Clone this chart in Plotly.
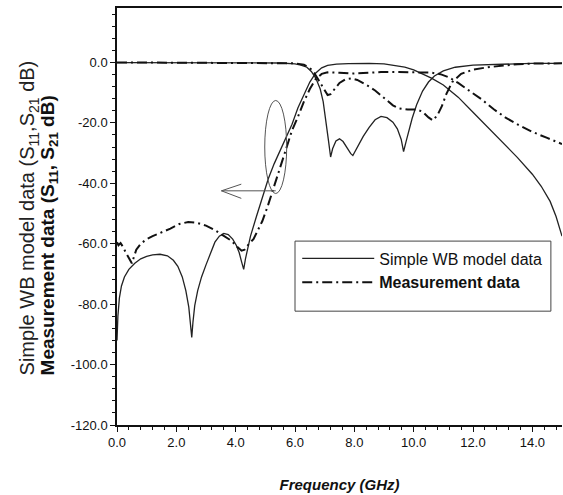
import plotly.graph_objects as go

# ---------------- data ----------------
f_model_s21 = [0.0, 0.03, 0.08, 0.15, 0.25, 0.4, 0.6, 0.8, 1.0, 1.2, 1.45, 1.7, 1.9, 2.05, 2.2,
               2.32, 2.42, 2.48, 2.52, 2.56, 2.62, 2.72, 2.85, 3.0, 3.15, 3.3, 3.45, 3.6, 3.75,
               3.9, 4.02, 4.12, 4.2, 4.27, 4.33, 4.4, 4.5, 4.7, 4.9, 5.1, 5.3, 5.5, 5.7, 5.9,
               6.1, 6.3, 6.5, 6.7, 6.9, 7.1, 7.4, 7.8, 8.5, 9.0, 9.4, 9.7, 10.0, 10.3, 10.6,
               11.0, 11.5, 12.0, 12.5, 13.0, 13.5, 14.0, 14.3, 14.6, 14.8, 15.0]
db_model_s21 = [-92, -84, -78, -74, -71, -68.5, -66.5, -65, -64.2, -63.7, -63.5, -64, -65.5, -67.5, -71,
                -75.5, -81, -86, -91, -86, -80.5, -75.5, -71, -67, -63, -59.5, -57.5, -56.6, -57,
                -58.5, -60.5, -63, -66, -68.5, -65, -61.5, -57.5, -51, -44.5, -38.5, -33.5, -29, -25, -20.5,
                -15, -10.5, -6.5, -3.5, -1.8, -1.0, -0.6, -0.4, -0.3, -0.5, -1.0, -1.6, -2.5, -3.8, -5.2,
                -7.5, -11.5, -16.5, -21.5, -26.5, -31.5, -37, -41, -46, -51, -57.5]

f_model_s11 = [0.0, 5.5, 6.0, 6.2, 6.4, 6.55, 6.7, 6.85, 6.95, 7.05, 7.13, 7.2, 7.27, 7.38, 7.5,
               7.62, 7.75, 7.88, 7.95, 8.02, 8.15, 8.3, 8.5, 8.7, 8.9, 9.1, 9.3, 9.45, 9.58, 9.66,
               9.75, 9.85, 9.95, 10.1, 10.3, 10.5, 10.7, 11.0, 11.4, 12.0, 13.0, 14.0, 15.0]
db_model_s11 = [-0.1, -0.2, -0.5, -0.9, -1.6, -3, -5.2, -8.8, -13, -19.5, -26, -31.3, -28.5, -26, -25.3,
                -26.2, -28.2, -30.2, -30.8, -29.5, -27, -24.5, -21.5, -19, -17.9, -18.3, -19.8, -22, -25.5, -29.5,
                -26, -22, -18.5, -14, -9.5, -6.5, -4.5, -2.8, -1.6, -0.9, -0.5, -0.3, -0.3]

f_meas_s21 = [0.0, 0.05, 0.12, 0.2, 0.3, 0.4, 0.5, 0.55, 0.65, 0.8, 1.0, 1.2, 1.5, 1.8, 2.1, 2.4,
              2.7, 3.0, 3.3, 3.6, 3.85, 4.05, 4.2, 4.3, 4.45, 4.6, 4.75, 4.9, 5.1, 5.3, 5.5, 5.7,
              5.9, 6.1, 6.3, 6.5, 6.7, 6.9, 7.1, 7.5, 7.9, 8.3, 8.9, 9.5, 10.1, 10.6, 10.9, 11.2,
              11.5, 11.9, 12.3, 12.7, 13.1, 13.5, 14.0, 14.5, 15.0]
db_meas_s21 = [-59.5, -60.5, -59.8, -61, -63, -65, -66.5, -65, -62, -60, -58.5, -57.5, -56.3, -55, -53.5, -52.8,
               -53.1, -54, -55.5, -57.3, -59, -61, -62.3, -62, -60, -58.5, -55.5, -52.5, -47, -41, -34.5, -28.3,
               -22.5, -18, -13, -8.8, -5.5, -3.8, -3.3, -3.4, -3.7, -3.5, -3.2, -3.2, -3.2, -3.4, -3.9, -5,
               -6.8, -9.5, -12.3, -15.5, -18.3, -20.5, -23, -25, -27]

f_meas_s11 = [0.0, 6.0, 6.3, 6.5, 6.65, 6.8, 6.95, 7.1, 7.2, 7.35, 7.5, 7.7, 7.9, 8.1, 8.3, 8.5,
              8.7, 8.9, 9.1, 9.3, 9.5, 9.8, 10.1, 10.3, 10.5, 10.65, 10.8, 10.95, 11.1, 11.3, 11.6,
              12.0, 12.5, 13.0, 13.5, 14.0, 15.0]
db_meas_s11 = [0.0, -0.3, -0.8, -1.8, -3.5, -5.8, -8.5, -10.8, -10.5, -8.5, -6.8, -5.6, -5.3, -5.8, -6.8, -8,
               -9.3, -11, -12.8, -14.2, -15.2, -15.6, -15.6, -16.3, -18.2, -19.2, -17.5, -14.5, -10.5, -6.5, -3.8,
               -2.4, -1.6, -1.0, -0.6, -0.4, -0.3]

y_tick_vals = [0, -20, -40, -60, -80, -100, -120]
y_tick_text = ["0.0", "-20.0", "-40.0", "-60.0", "-80.0", "-100.0", "-120.0"]
x_tick_vals = [0, 2, 4, 6, 8, 10, 12, 14]
x_tick_text = ["0.0", "2.0", "4.0", "6.0", "8.0", "10.0", "12.0", "14.0"]

FONT = "Arial, Liberation Sans, sans-serif"
DASHDOT = "10px,4px,2px,4px"

fig = go.Figure()
fig.add_trace(go.Scatter(x=f_model_s21, y=db_model_s21, mode="lines",
                         line=dict(color="#222222", width=1.3), name="Simple WB model data",
                         legendgroup="m"))
fig.add_trace(go.Scatter(x=f_model_s11, y=db_model_s11, mode="lines",
                         line=dict(color="#222222", width=1.3), showlegend=False, legendgroup="m"))
fig.add_trace(go.Scatter(x=f_meas_s21, y=db_meas_s21, mode="lines",
                         line=dict(color="#111111", width=2, dash=DASHDOT),
                         name="<b>Measurement data</b>", legendgroup="d"))
fig.add_trace(go.Scatter(x=f_meas_s11, y=db_meas_s11, mode="lines",
                         line=dict(color="#111111", width=2, dash=DASHDOT), showlegend=False,
                         legendgroup="d"))

# ellipse and arrow annotation
fig.add_shape(type="circle", xref="x", yref="y", x0=4.98, x1=5.72, y0=-43.4, y1=-12.6,
              line=dict(color="#555555", width=1))
fig.add_shape(type="path", xref="x", yref="y",
              path="M5.35,-42.5 L3.52,-42.5 M4.19,-40.3 L3.52,-42.5 L4.19,-45.0",
              line=dict(color="#555555", width=1))
# legend box
fig.add_shape(type="rect", xref="paper", yref="paper", x0=0.4, x1=0.975, y0=0.273, y1=0.441,
              line=dict(color="#444444", width=1), fillcolor="white", layer="below")

axis_common = dict(showline=True, linecolor="#111111", linewidth=1.5, ticks="outside",
                   ticklen=5, tickwidth=1.2, tickcolor="#111111", showgrid=False, zeroline=False,
                   tickfont=dict(family=FONT, size=13, color="#111111"))

fig.update_xaxes(range=[0, 15], tickvals=x_tick_vals, ticktext=x_tick_text, mirror=True,
                 minor=dict(dtick=0.4, tick0=0, ticks="outside", ticklen=3, tickcolor="#111111",
                            showgrid=False),
                 title=dict(text="<b><i>Frequency (GHz)</i></b>",
                            font=dict(family=FONT, size=15, color="#111111"), standoff=30),
                 **axis_common)
fig.update_yaxes(range=[-120, 18], tickvals=y_tick_vals, ticktext=y_tick_text,
                 minor=dict(dtick=4, tick0=0, ticks="outside", ticklen=3, tickcolor="#111111",
                            showgrid=False),
                 **axis_common)

fig.add_annotation(xref="paper", yref="paper", x=-0.198, y=0.115, xanchor="center", yanchor="bottom",
                   textangle=-90, showarrow=False,
                   text="Simple WB model data (S<sub>11</sub>,S<sub>21</sub> dB)",
                   font=dict(family=FONT, size=20, color="#222222"))
fig.add_annotation(xref="paper", yref="paper", x=-0.152, y=0.115, xanchor="center", yanchor="bottom",
                   textangle=-90, showarrow=False,
                   text="<b>Measurement data (S<sub>11</sub>, S<sub>21</sub> dB)</b>",
                   font=dict(family=FONT, size=19, color="#111111"))

fig.update_layout(
    width=563, height=495,
    margin=dict(l=117, r=1, t=8, b=70),
    plot_bgcolor="white", paper_bgcolor="white",
    legend=dict(x=0.405, y=0.44, xanchor="left", yanchor="top", bgcolor="rgba(0,0,0,0)",
                borderwidth=0, itemwidth=72,
                font=dict(family=FONT, size=16, color="#111111"), tracegroupgap=0),
)

fig.write_html("out.html")
